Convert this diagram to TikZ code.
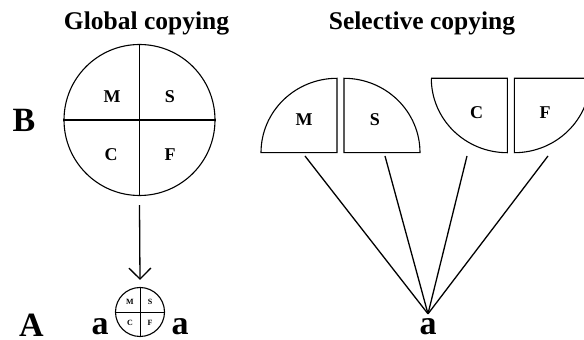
\documentclass[tikz,border=0pt]{standalone}
\usepackage{fontspec}
\setmainfont{Liberation Serif}
\usetikzlibrary{arrows.meta,positioning}
\tikzstyle{title} = [font=\bfseries\fontsize{25.5}{30}\selectfont,inner sep=0,anchor=base]
\tikzstyle{big} = [font=\bfseries\fontsize{34}{40}\selectfont,inner sep=0,anchor=base]
\tikzstyle{part} = [font=\bfseries\fontsize{18}{22}\selectfont,inner sep=0]
\tikzstyle{tiny} = [font=\bfseries\fontsize{8}{9}\selectfont,inner sep=0]
\tikzstyle{whole} = [draw,circle,line width=1.1pt,inner sep=0]
\tikzstyle{piece} = [draw,line width=1.1pt]
\tikzstyle{index} = [-,line width=1.3pt]
\def \rx {76}
\def \ry {74.4}

\begin{document}
\begin{tikzpicture}[x=1pt,y=1pt]
      \useasboundingbox (0,0) rectangle (584,340);
      % global copying
      \node[title] (gt) at (146.5,310) {Global copying};
      \node[big] (b) at (24,208) {B};
      \node[whole,minimum size=151] (g) at (139.5,220) {};
      \draw[piece] (g.north) -- (g.south);
      \draw[piece] (g.west) -- (g.east);
      \node[part] (gm) at (112,243) {M};
      \node[part] (gs) at (170,243) {S};
      \node[part] (gc) at (111,185) {C};
      \node[part] (gf) at (170,185) {F};
      \node[whole,minimum size=49] (s) at (140,28) {};
      \draw[piece,line width=0.8pt] (s.north) -- (s.south);
      \draw[piece,line width=0.8pt] (s.west) -- (s.east);
      \node[tiny] (sm) at (130,38) {M};
      \node[tiny] (ss) at (150,38) {S};
      \node[tiny] (sc) at (130,17.5) {C};
      \node[tiny] (sf) at (150,17.5) {F};
      \draw[index,-{Straight Barb[length=11pt,width=22pt,line width=1.3pt]}] ([yshift=-9pt]g.south) -- ([yshift=7pt]s.north);
      \node[big] (A) at (31.5,3) {A};
      \node[big] (la) at (100,5) {a};
      \node[big] (ra) at (180,5) {a};
      % selective copying
      \node[title] (st) at (422,310) {Selective copying};
      \draw[piece] (337,261.7) -- (337,187.3) -- (261,187.3) arc[start angle=180,end angle=90,x radius=\rx,y radius=\ry] -- cycle;
      \draw[piece] (344,261.7) -- (344,187.3) -- (420,187.3) arc[start angle=0,end angle=90,x radius=\rx,y radius=\ry] -- cycle;
      \draw[piece] (431,261.7) -- (507.3,261.7) -- (507.3,187.3) arc[start angle=270,end angle=180,x radius=\rx,y radius=\ry] -- cycle;
      \draw[piece] (590.3,261.7) -- (514.3,261.7) -- (514.3,187.3) arc[start angle=270,end angle=360,x radius=\rx,y radius=\ry] -- cycle;
      \node[part] (qm) at (304,220) {M};
      \node[part] (qs) at (375,220) {S};
      \node[part] (qc) at (476.7,227) {C};
      \node[part] (qf) at (545,227) {F};
      \node[big] (a) at (428,5) {a};
      \coordinate (apex) at ([yshift=5pt]a.north);
      \coordinate (m1) at (305,184);
      \coordinate (s1) at (385,184);
      \coordinate (c1) at (467,184);
      \coordinate (f1) at (548,184);
      \foreach \p in {m1,s1,c1,f1}
        \draw[index] (\p) -- (apex);
    \end{tikzpicture}
\end{document}
